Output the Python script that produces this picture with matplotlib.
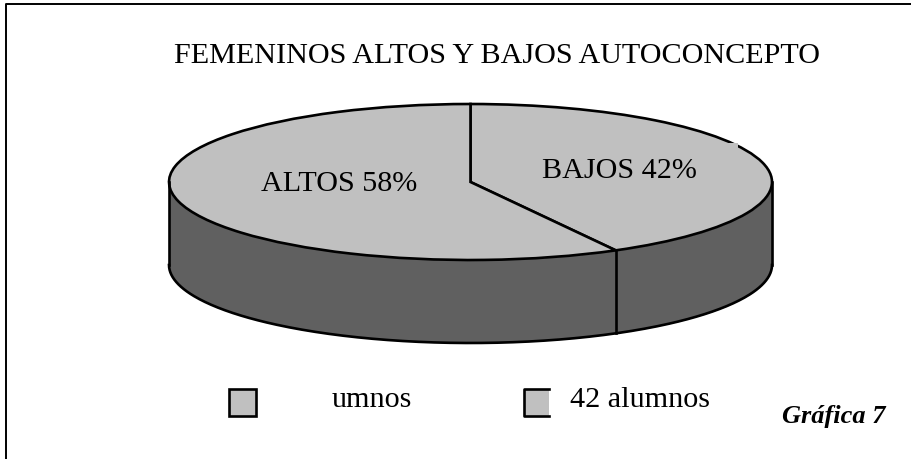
import numpy as np
import matplotlib
matplotlib.use('Agg')
import matplotlib.pyplot as plt
from matplotlib.lines import Line2D
from matplotlib.patches import Rectangle

# Data
labels = ['BAJOS 42%', 'ALTOS 58%']
values = [42, 58]
legend_labels = ['umnos', '42 alumnos']
title = 'FEMENINOS ALTOS Y BAJOS AUTOCONCEPTO'
note = 'Gráfica 7'

top_color = '#c0c0c0'
side_color = '#606060'

W, H = 911, 459
cx, cy = 470.5, 182    # centre of the top face, px
rx, ry = 301.5, 78     # radii of the top face, px
depth = 83 / ry
lw = 1.9

plt.rcParams['font.family'] = ['Liberation Serif', 'DejaVu Serif']

fig = plt.figure(figsize=(W / 100, H / 100), dpi=100)
ax = fig.add_axes([0, 0, 1, 1])

# side wall, lower half of the ellipse pushed down
t = np.linspace(np.pi, 2 * np.pi, 300)
ax.fill_between(np.cos(t), np.sin(t), np.sin(t) - depth, color=side_color, lw=0)
ax.plot(np.cos(t), np.sin(t) - depth, color='black', lw=lw)
ax.plot([-1, -1], [0, -depth], color='black', lw=lw)
ax.plot([1, 1], [0, -depth], color='black', lw=lw)

# top face
ax.pie(values, startangle=90, counterclock=False, colors=[top_color, top_color],
       radius=1, wedgeprops=dict(edgecolor='black', linewidth=lw))
ax.set_aspect('auto')
ax.set_xlim(-cx / rx, (W - cx) / rx)
ax.set_ylim(-(H - cy) / ry, cy / ry)

# edge between the two slices on the wall
ang = 2 * np.pi * values[0] / sum(values)
bx, by = np.sin(ang), np.cos(ang)
ax.plot([bx, bx], [by, by - depth], color='black', lw=lw)


# the rest is placed in pixels
def T(x, y):
    return x / W, 1 - y / H


def pline(xs, ys, width):
    fig.add_artist(Line2D([x / W for x in xs], [1 - y / H for y in ys], color='black', lw=width,
                          transform=fig.transFigure, solid_capstyle='projecting'))


# scan flaw on the rim of the top face
fig.add_artist(Rectangle((728 / W, 1 - 149 / H), 10 / W, 6 / H, transform=fig.transFigure,
                         facecolor=top_color, edgecolor='none'))

# only the left and top of the frame show
pline([6, 6, 911], [459, 4, 4], 1.4)

fig.text(*T(497, 56), title, fontsize=21.7, ha='center', va='center')
fig.text(*T(339, 184), labels[1], fontsize=21.7, ha='center', va='center')
fig.text(*T(619, 171), labels[0], fontsize=21.7, ha='center', va='center')

# first legend box
fig.add_artist(Rectangle((229 / W, 1 - 416 / H), 27 / W, 27 / H, transform=fig.transFigure,
                         facecolor=top_color, edgecolor='black', lw=lw))
fig.text(*T(332, 400), legend_labels[0], fontsize=21.7, ha='left', va='center')

# second legend box, its right side is missing
fig.add_artist(Rectangle((524 / W, 1 - 416 / H), 25 / W, 27 / H, transform=fig.transFigure,
                         facecolor=top_color, edgecolor='none'))
pline([549, 524, 524, 549], [389, 389, 416, 416], lw)
fig.text(*T(570, 400), legend_labels[1], fontsize=21.7, ha='left', va='center')

fig.text(*T(834, 416), note, fontsize=19, style='italic', weight='bold', ha='center', va='center')

fig.savefig('out.png', dpi=100)
